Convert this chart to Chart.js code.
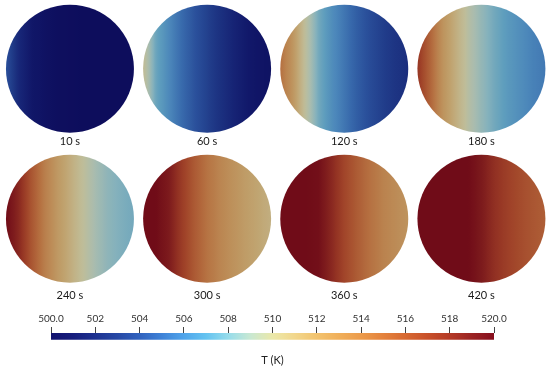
<!DOCTYPE html>
<html>
<head>
<meta charset="utf-8">
<title>Temperature snapshots</title>
<script src="https://cdn.jsdelivr.net/npm/chart.js@4.4.1/dist/chart.umd.min.js"></script>
<style>
  body { margin: 0; background: #fff; }
  canvas { display: block; }
</style>
</head>
<body>
<canvas id="discs" width="550" height="305"></canvas>
<canvas id="colorbar" width="550" height="62"></canvas>
<script>
// snapshot times
const times = ['10 s', '60 s', '120 s', '180 s', '240 s', '300 s', '360 s', '420 s'];

// sample positions across each disc (-1 = left edge, 1 = right edge)
const posX = [-1, -0.8, -0.6, -0.4, -0.2, 0, 0.2, 0.4, 0.6, 0.8, 1];

// temperature (K) read at posX for each snapshot
const t10  = [504.0, 502.0, 501.0, 500.5, 500.2, 500.1, 500.0, 500.0, 500.0, 500.0, 500.0];
const t60  = [510.3, 507.3, 506.1, 505.0, 504.1, 503.3, 502.5, 501.8, 501.2, 500.8, 500.5];
const t120 = [515.0, 512.8, 509.8, 507.5, 506.3, 505.4, 504.5, 503.8, 503.2, 502.7, 502.3];
const t180 = [517.8, 515.5, 513.0, 511.3, 509.5, 508.4, 507.5, 506.8, 506.3, 505.8, 505.5];
const t240 = [520.0, 518.5, 516.2, 514.3, 512.7, 511.4, 510.0, 508.9, 508.2, 507.8, 507.5];
const t300 = [520.0, 520.0, 519.2, 517.5, 516.0, 514.8, 513.9, 513.1, 512.4, 511.8, 511.2];
const t360 = [520.0, 520.0, 520.0, 519.8, 518.5, 517.0, 515.9, 514.9, 514.1, 513.5, 513.0];
const t420 = [520.0, 520.0, 520.0, 520.0, 520.0, 519.2, 518.1, 517.3, 516.7, 516.2, 515.8];
const profiles = [t10, t60, t120, t180, t240, t300, t360, t420];

// colour bar range and ticks
const tMin = 500;
const tMax = 520;
const tickValues = [500, 502, 504, 506, 508, 510, 512, 514, 516, 518, 520];
const tickLabels = ['500.0', '502', '504', '506', '508', '510', '512', '514', '516', '518', '520.0'];

// colormap control points (blue - white/yellow - red)
const cmapT = [500, 501, 502, 503, 504, 505, 506, 507, 508, 509, 510,
               511, 512, 513, 514, 515, 516, 517, 518, 519, 520];
const cmapRGB = [
  [18, 18, 110], [22, 30, 125], [30, 50, 145], [38, 72, 165], [48, 98, 190],
  [62, 130, 215], [80, 165, 235], [100, 195, 240], [150, 220, 235], [200, 232, 210],
  [235, 232, 170], [242, 215, 140], [242, 195, 110], [240, 175, 90], [236, 155, 75],
  [228, 130, 60], [215, 105, 50], [200, 80, 42], [180, 58, 38], [155, 35, 35],
  [135, 14, 30]
];

const RADIUS = 64;

function colorOf(t) {
  t = Math.min(tMax, Math.max(tMin, t));
  let k = 0;
  while (k < cmapT.length - 2 && t > cmapT[k + 1]) k++;
  const f = (t - cmapT[k]) / (cmapT[k + 1] - cmapT[k]);
  return cmapRGB[k].map((v, j) => v + (cmapRGB[k + 1][j] - v) * f);
}

// surface shading of the rendered discs: darker, and greyer where bright
function shade(c) {
  const g = c.map(v => 255 * Math.pow(v / 255, 1.1) * 0.95);
  const l = (0.3 * g[0] + 0.59 * g[1] + 0.11 * g[2]) / 255;
  const d = 0.42 * l;
  const m = 1 - 0.15 * l;
  const lum = l * 255;
  return g.map(v => (v + (lum - v) * d) * m);
}

function rgb(c) {
  return 'rgb(' + c.map(v => Math.round(v)).join(',') + ')';
}

function tempAt(profile, u) {
  let k = 0;
  while (k < posX.length - 2 && u > posX[k + 1]) k++;
  const f = (u - posX[k]) / (posX[k + 1] - posX[k]);
  return profile[k] + (profile[k + 1] - profile[k]) * f;
}

function discFill(ctx) {
  if (ctx.type !== 'data' || !ctx.chart.chartArea) return 'transparent';
  const i = ctx.dataIndex;
  const cx = ctx.chart.scales.x.getPixelForValue(i % 4);
  const g = ctx.chart.ctx.createLinearGradient(cx - RADIUS, 0, cx + RADIUS, 0);
  const n = 64;
  for (let k = 0; k <= n; k++) {
    const u = -1 + 2 * k / n;
    g.addColorStop(k / n, rgb(shade(colorOf(tempAt(profiles[i], u)))));
  }
  return g;
}

function barFill(ctx) {
  if (!ctx.chart.chartArea) return 'transparent';
  const xs = ctx.chart.scales.x;
  const x0 = xs.getPixelForValue(tMin);
  const x1 = xs.getPixelForValue(tMax);
  const g = ctx.chart.ctx.createLinearGradient(x0, 0, x1, 0);
  const n = 80;
  for (let k = 0; k <= n; k++) {
    g.addColorStop(k / n, rgb(colorOf(tMin + (tMax - tMin) * k / n)));
  }
  return g;
}

// time label under each disc
const timeLabels = {
  id: 'timeLabels',
  afterDatasetsDraw(chart) {
    const { ctx, scales: { x, y } } = chart;
    ctx.save();
    ctx.font = '11px Lato';
    ctx.fillStyle = '#1a1a1a';
    ctx.textAlign = 'center';
    ctx.textBaseline = 'middle';
    times.forEach((t, i) => {
      const row = Math.floor(i / 4);
      ctx.fillText(t, x.getPixelForValue(i % 4), y.getPixelForValue(row) + RADIUS + 9 + 4 * row);
    });
    ctx.restore();
  }
};

new Chart(document.getElementById('discs'), {
  type: 'scatter',
  data: {
    datasets: [{
      data: times.map((t, i) => ({ x: i % 4, y: Math.floor(i / 4) })),
      pointRadius: RADIUS,
      pointHoverRadius: RADIUS,
      borderWidth: 0,
      pointBorderWidth: 0,
      backgroundColor: discFill,
      clip: false
    }]
  },
  options: {
    responsive: false,
    animation: false,
    events: [],
    layout: { padding: 0, autoPadding: false },
    scales: {
      x: { type: 'linear', min: -0.51, max: 3.5, display: false },
      y: { type: 'linear', min: -0.458, max: 1.575, reverse: true, display: false }
    },
    plugins: { legend: { display: false }, tooltip: { enabled: false } }
  },
  plugins: [timeLabels]
});

new Chart(document.getElementById('colorbar'), {
  type: 'bar',
  data: {
    labels: ['T'],
    datasets: [{
      data: [[tMin, tMax]],
      backgroundColor: barFill,
      barPercentage: 1,
      categoryPercentage: 1,
      borderWidth: 0
    }]
  },
  options: {
    indexAxis: 'y',
    responsive: false,
    animation: false,
    events: [],
    layout: { padding: { left: 51, right: 56, top: 6, bottom: 0 } },
    scales: {
      x: {
        type: 'linear',
        position: 'top',
        min: tMin,
        max: tMax,
        afterBuildTicks: scale => { scale.ticks = tickValues.map(v => ({ value: v })); },
        ticks: {
          autoSkip: false,
          maxRotation: 0,
          padding: 2,
          color: '#333',
          font: { family: 'Lato', size: 10 },
          callback: v => tickLabels[tickValues.indexOf(v)]
        },
        grid: { drawOnChartArea: false, drawTicks: true, tickLength: 6, color: '#444' },
        border: { display: false }
      },
      y: { display: false }
    },
    plugins: {
      legend: { display: false },
      tooltip: { enabled: false },
      title: {
        display: true,
        position: 'bottom',
        text: 'T (K)',
        color: '#222',
        font: { family: 'Lato', size: 11, weight: 'normal' },
        padding: { top: 14, bottom: 0 }
      }
    }
  }
});
</script>
</body>
</html>
